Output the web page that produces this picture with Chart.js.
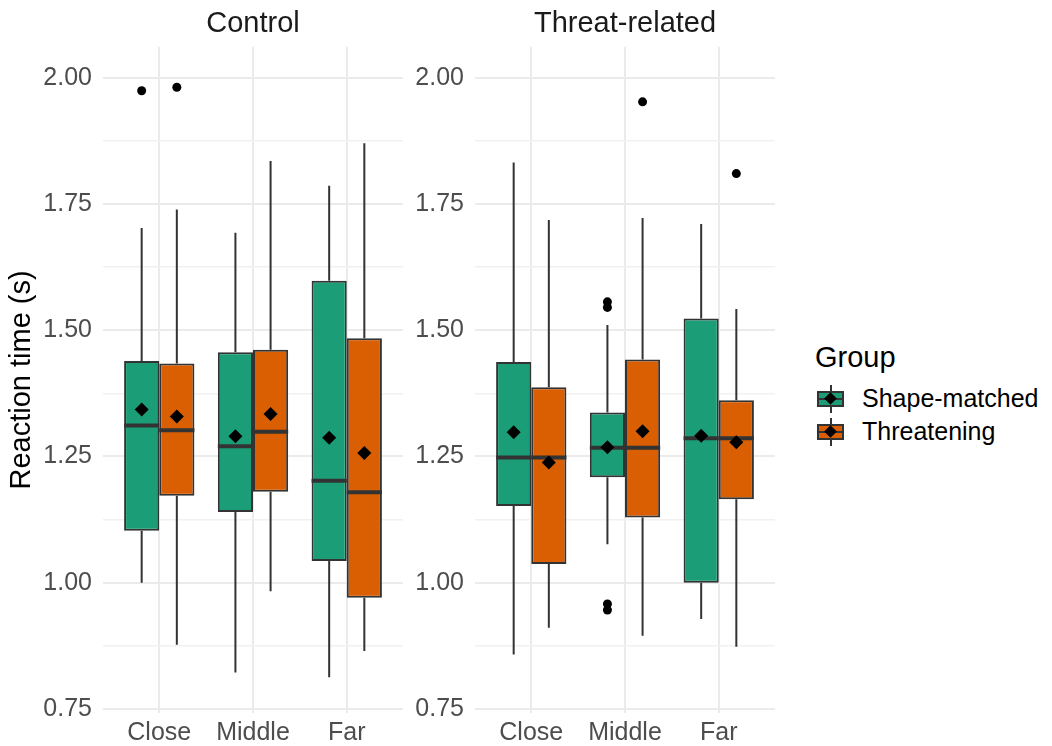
<!DOCTYPE html>
<html>
<head>
<meta charset="utf-8">
<script src="https://cdn.jsdelivr.net/npm/chart.js@4.4.1/dist/chart.umd.min.js"></script>
<style>
  body { margin: 0; background: #ffffff; font-family: "Liberation Sans", Arial, sans-serif; }
  #page { position: relative; width: 1052px; height: 746px; overflow: hidden; }
  #leftPanel { position: absolute; left: 0; top: 0; }
  #rightPanel { position: absolute; left: 410px; top: 0; }
  #legend { position: absolute; left: 815px; top: 340px; color: #000; }
  #legend .title { font-size: 29px; line-height: 34px; margin-bottom: 8px; }
  #legend .row { display: flex; align-items: center; height: 33px; font-size: 25px; }
  .key { position: relative; width: 27px; height: 28px; margin-left: 2px; margin-right: 18px; }
  .key .whisker { position: absolute; left: 12.5px; top: 0; width: 2px; height: 28px; background: #333; }
  .key .box { position: absolute; left: 0; top: 6px; width: 23px; height: 12px; border: 2px solid #333; }
  .key .median { position: absolute; left: 0; top: 13px; width: 27px; height: 2px; background: #333; }
  .key .mean { position: absolute; left: 9px; top: 9px; width: 9px; height: 9px; background: #000; transform: rotate(45deg); }
</style>
</head>
<body>
<div id="page">
  <canvas id="leftPanel" width="410" height="746"></canvas>
  <canvas id="rightPanel" width="372" height="746"></canvas>
  <div id="legend">
    <div class="title">Group</div>
    <div class="row"><div class="key"><div class="whisker"></div><div class="box" style="background:#1B9E77"></div><div class="median"></div><div class="mean"></div></div>Shape-matched</div>
    <div class="row"><div class="key"><div class="whisker"></div><div class="box" style="background:#D95F02"></div><div class="median"></div><div class="mean"></div></div>Threatening</div>
  </div>
</div>
<script>
// categories and axis
var categories = ['Close', 'Middle', 'Far'];
var groups = ['Shape-matched', 'Threatening'];
var groupColors = ['#1B9E77', '#D95F02'];
var yTicks = [0.75, 1.00, 1.25, 1.50, 1.75, 2.00];
var yMinorTicks = [0.875, 1.125, 1.375, 1.625, 1.875];
var yMin = 0.742;
var yMax = 2.061;
var dodge = 0.75;

// Control - Shape-matched
var ctrlShapeLow = [1.000, 0.822, 0.813];
var ctrlShapeQ1 = [1.103, 1.140, 1.043];
var ctrlShapeMed = [1.311, 1.270, 1.202];
var ctrlShapeQ3 = [1.439, 1.456, 1.598];
var ctrlShapeHigh = [1.702, 1.693, 1.786];
var ctrlShapeMean = [1.343, 1.290, 1.287];
var ctrlShapeOut = [[1.974], [], []];

// Control - Threatening
var ctrlThreatLow = [0.877, 0.983, 0.865];
var ctrlThreatQ1 = [1.172, 1.180, 0.970];
var ctrlThreatMed = [1.302, 1.299, 1.179];
var ctrlThreatQ3 = [1.434, 1.461, 1.484];
var ctrlThreatHigh = [1.739, 1.835, 1.870];
var ctrlThreatMean = [1.329, 1.334, 1.257];
var ctrlThreatOut = [[1.981], [], []];

// Threat-related - Shape-matched
var thrShapeLow = [0.858, 1.076, 0.928];
var thrShapeQ1 = [1.152, 1.209, 1.000];
var thrShapeMed = [1.248, 1.267, 1.286];
var thrShapeQ3 = [1.437, 1.337, 1.523];
var thrShapeHigh = [1.832, 1.510, 1.710];
var thrShapeMean = [1.298, 1.268, 1.291];
var thrShapeOut = [[], [1.556, 1.545, 0.958, 0.946], []];

// Threat-related - Threatening
var thrThreatLow = [0.911, 0.895, 0.873];
var thrThreatQ1 = [1.037, 1.129, 1.165];
var thrThreatMed = [1.248, 1.267, 1.286];
var thrThreatQ3 = [1.387, 1.442, 1.361];
var thrThreatHigh = [1.718, 1.722, 1.542];
var thrThreatMean = [1.238, 1.300, 1.278];
var thrThreatOut = [[], [1.952], [1.810]];

var FONT = '"Liberation Sans", Arial, sans-serif';

// whiskers behind each box, median on top of it
var boxParts = {
  id: 'boxParts',
  beforeDatasetDraw: function(chart, args) {
    var ds = chart.data.datasets[args.index];
    if (!ds.whiskerLow) return;
    var y = chart.scales.y, ctx = chart.ctx;
    ctx.save();
    ctx.strokeStyle = '#333333';
    ctx.lineWidth = 2;
    args.meta.data.forEach(function(bar, i) {
      ctx.beginPath();
      ctx.moveTo(bar.x, y.getPixelForValue(ds.whiskerHigh[i]));
      ctx.lineTo(bar.x, y.getPixelForValue(ds.data[i].y[1]));
      ctx.moveTo(bar.x, y.getPixelForValue(ds.data[i].y[0]));
      ctx.lineTo(bar.x, y.getPixelForValue(ds.whiskerLow[i]));
      ctx.stroke();
    });
    ctx.restore();
  },
  afterDatasetDraw: function(chart, args) {
    var ds = chart.data.datasets[args.index];
    if (!ds.median) return;
    var y = chart.scales.y, ctx = chart.ctx;
    ctx.save();
    ctx.strokeStyle = '#333333';
    ctx.lineWidth = 4;
    args.meta.data.forEach(function(bar, i) {
      var py = y.getPixelForValue(ds.median[i]);
      ctx.beginPath();
      ctx.moveTo(bar.x - bar.width / 2, py);
      ctx.lineTo(bar.x + bar.width / 2, py);
      ctx.stroke();
    });
    ctx.restore();
  }
};

function boxDataset(g, low, q1, med, q3, high) {
  return {
    type: 'bar',
    label: groups[g],
    data: categories.map(function(c, i) { return { x: i, y: [q1[i], q3[i]] }; }),
    whiskerLow: low,
    whiskerHigh: high,
    median: med,
    backgroundColor: groupColors[g],
    borderColor: '#333333',
    borderWidth: 2,
    borderSkipped: false,
    categoryPercentage: dodge,
    barPercentage: 1,
    order: 2
  };
}

function offsetFor(g) {
  return (g - 0.5) * dodge / 2;
}

function meanDataset(g, mean) {
  return {
    type: 'scatter',
    data: mean.map(function(v, i) { return { x: i + offsetFor(g), y: v }; }),
    pointStyle: 'rectRot',
    pointRadius: 7,
    backgroundColor: '#000000',
    borderWidth: 0,
    order: 0
  };
}

function outlierDataset(g, outs) {
  var pts = [];
  outs.forEach(function(list, i) {
    list.forEach(function(v) { pts.push({ x: i + offsetFor(g), y: v }); });
  });
  return {
    type: 'scatter',
    data: pts,
    pointStyle: 'circle',
    pointRadius: 4.5,
    backgroundColor: '#000000',
    borderWidth: 0,
    order: 1
  };
}

function makePanel(canvasId, title, datasets, yWidth, yTitle, padRight) {
  var ctx = document.getElementById(canvasId).getContext('2d');
  return new Chart(ctx, {
    type: 'bar',
    data: { datasets: datasets },
    plugins: [boxParts],
    options: {
      responsive: false,
      animation: false,
      events: [],
      layout: { padding: { top: 0, right: padRight, bottom: 0, left: 0 } },
      plugins: {
        legend: { display: false },
        tooltip: { enabled: false },
        title: {
          display: true,
          text: title,
          fullSize: false,
          color: '#1a1a1a',
          font: { family: FONT, size: 29, weight: 'normal' },
          padding: { top: 7, bottom: 5 }
        }
      },
      scales: {
        x: {
          type: 'linear',
          min: -0.6,
          max: 2.6,
          offset: false,
          afterBuildTicks: function(scale) {
            scale.ticks = categories.map(function(c, i) { return { value: i }; });
          },
          afterFit: function(scale) { scale.height = 33; },
          ticks: {
            padding: 5,
            color: '#4d4d4d',
            font: { family: FONT, size: 25 },
            callback: function(v) { return categories[v]; }
          },
          grid: { offset: false, color: '#ebebeb', lineWidth: 2, drawTicks: false },
          border: { display: false }
        },
        y: {
          type: 'linear',
          min: yMin,
          max: yMax,
          afterBuildTicks: function(scale) {
            scale.ticks = yTicks.concat(yMinorTicks).sort(function(a, b) { return a - b; })
              .map(function(v) { return { value: v }; });
          },
          afterFit: function(scale) { scale.width = yWidth; },
          title: {
            display: !!yTitle,
            text: yTitle || '',
            color: '#000000',
            font: { family: FONT, size: 29 },
            padding: { top: 5, bottom: 0 }
          },
          ticks: {
            padding: 11,
            color: '#4d4d4d',
            font: { family: FONT, size: 25 },
            callback: function(v) { return yTicks.indexOf(v) >= 0 ? v.toFixed(2) : ''; }
          },
          grid: {
            drawTicks: false,
            color: function(c) { return yTicks.indexOf(c.tick.value) >= 0 ? '#ebebeb' : '#f1f1f1'; },
            lineWidth: function(c) { return yTicks.indexOf(c.tick.value) >= 0 ? 2 : 1.5; }
          },
          border: { display: false }
        }
      }
    }
  });
}

makePanel('leftPanel', 'Control', [
  boxDataset(0, ctrlShapeLow, ctrlShapeQ1, ctrlShapeMed, ctrlShapeQ3, ctrlShapeHigh),
  boxDataset(1, ctrlThreatLow, ctrlThreatQ1, ctrlThreatMed, ctrlThreatQ3, ctrlThreatHigh),
  meanDataset(0, ctrlShapeMean),
  meanDataset(1, ctrlThreatMean),
  outlierDataset(0, ctrlShapeOut),
  outlierDataset(1, ctrlThreatOut)
], 103, 'Reaction time (s)', 4);

makePanel('rightPanel', 'Threat-related', [
  boxDataset(0, thrShapeLow, thrShapeQ1, thrShapeMed, thrShapeQ3, thrShapeHigh),
  boxDataset(1, thrThreatLow, thrThreatQ1, thrThreatMed, thrThreatQ3, thrThreatHigh),
  meanDataset(0, thrShapeMean),
  meanDataset(1, thrThreatMean),
  outlierDataset(0, thrShapeOut),
  outlierDataset(1, thrThreatOut)
], 65, null, 3.5);
</script>
</body>
</html>
